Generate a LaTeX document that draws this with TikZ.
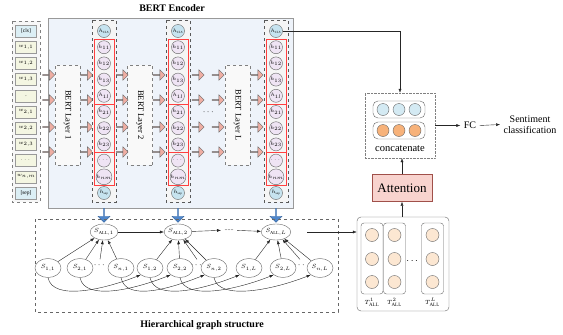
\documentclass[tikz,border=0pt]{standalone}
\usepackage{fontspec}
\setmainfont{Liberation Serif}
\usepackage{amsmath}
\usetikzlibrary{arrows.meta, positioning, shapes.arrows, shapes.geometric}

\definecolor{encfill}{HTML}{EEF3FA}
\definecolor{tokfill}{HTML}{F4F6E2}
\definecolor{clsfill}{HTML}{DCEFF5}
\definecolor{hidfill}{HTML}{EFE4F4}
\definecolor{hidcls}{HTML}{C6E3EF}
\definecolor{pinkarr}{HTML}{EFAEA3}
\definecolor{bluearr}{HTML}{4F87CC}
\definecolor{attfill}{HTML}{F8D3CE}
\definecolor{attdraw}{HTML}{A0504A}
\definecolor{peach}{HTML}{FCE7D2}
\definecolor{orangec}{HTML}{F7B27A}
\definecolor{bluec}{HTML}{D4EAF3}

\tikzset{
  token/.style={draw=gray!80, fill=tokfill, minimum width=21pt, minimum height=12pt,
    inner sep=0pt, font=\fontsize{5.5}{6}\selectfont},
  clstoken/.style={token, fill=clsfill},
  hid/.style={circle, draw=gray!80!black, fill=hidfill, minimum size=13pt, inner sep=0pt,
    font=\fontsize{4.5}{5}\selectfont},
  hidend/.style={hid, fill=hidcls},
  layerbox/.style={draw=gray, dashed, fill=gray!5, rotate=-90, minimum width=100pt,
    minimum height=25pt, font=\fontsize{8.5}{9}\selectfont},
  pinkarrow/.style={single arrow, draw=gray!80!black, fill=pinkarr, minimum height=12pt,
    minimum width=10.5pt, single arrow head extend=2.5pt, inner sep=0pt},
  bluearrow/.style={single arrow, draw=bluearr!80!black, fill=bluearr, shape border rotate=270,
    minimum height=14pt, minimum width=12pt, single arrow head extend=2pt, inner sep=0pt},
  sall/.style={ellipse, draw=gray!80!black, fill=white, minimum width=27pt, minimum height=16pt,
    inner sep=0pt, font=\fontsize{6.5}{7}\selectfont},
  snode/.style={ellipse, draw=gray!80!black, fill=white, minimum width=26pt, minimum height=19pt,
    inner sep=0pt, font=\fontsize{6.5}{7}\selectfont},
  tcirc/.style={circle, draw=gray!80!black, fill=peach, minimum size=13pt, inner sep=0pt},
  arr/.style={-{Latex[length=4pt,width=3pt]}, black!85},
}

\begin{document}
\begin{tikzpicture}[x=1pt,y=-1pt]
\useasboundingbox (0,0) rectangle (563,335);

% encoder background and title
\draw[gray!80, fill=encfill] (48,18) rectangle (293,208);
\node[font=\bfseries] (enctitle) at (172,8) {BERT Encoder};

% input tokens
\draw[dashed, gray, fill=gray!6] (12,21) rectangle (40,202);
\node[clstoken] (tok1) at (26,31) {[cls]};
\foreach \lab [count=\k from 2] in {{$w_{1,1}$},{$w_{1,2}$},{$w_{1,3}$},{.},{$w_{2,1}$},{$w_{2,2}$},{$w_{2,3}$},{$\cdots$},{$w_{n,m}$}}
  \node[token] (tok\k) at (26,{31+16.2*(\k-1)}) {\lab};
\node[clstoken] (tok11) at (26,193) {[sep]};

% bert layers
\node[layerbox] (layer1) at (67.5,115) {BERT Layer 1};
\node[layerbox] (layer2) at (140,115) {BERT Layer 2};
\node[layerbox] (layerL) at (237.5,115) {BERT Layer L};
\node[font=\small] (laydots) at (209,112) {$\cdots$};

% pink arrows between the columns
\foreach \ax [count=\i] in {48.5,86.5,122,159,198,218,257}
  \foreach \ay [count=\j] in {75,100,127,152}
    \node[pinkarrow] (pa\i-\j) at (\ax,\ay) {};

% hidden state columns
\foreach \col/\cx in {1/104,2/178,L/276}{
  \draw[dashed, gray!70!black, fill=gray!8] (\cx-12,20) rectangle (\cx+12,202);
  \node[hidend] (h\col-1) at (\cx,31) {$h_{\mathrm{CLS}}$};
  \foreach \lab [count=\k from 2] in {{$h_{11}$},{$h_{12}$},{$h_{13}$},{$h_{1l}$},{$h_{21}$},{$h_{22}$},{$h_{23}$},{$\cdots$},{$h_{nm}$}}
    \node[hid] (h\col-\k) at (\cx,{31+16.2*(\k-1)}) {\lab};
  \node[hidend] (h\col-11) at (\cx,193) {$h_{\mathrm{sep}}$};
  % red groups
  \draw[red!75, line width=0.6pt] (\cx-10,39.1) rectangle (\cx+10,103.9);
  \draw[red!75, line width=0.6pt] (\cx-10,103.9) rectangle (\cx+10,152.5);
  \draw[red!75, line width=0.6pt] (\cx-10,152.5) rectangle (\cx+10,184.9);
  % arrow down to the graph
  \node[bluearrow] (down\col) at (\cx,215) {};
}

% hierarchical graph
\draw[dashed, gray!80!black, line width=0.7pt] (35,219) rectangle (338,312);
\node[sall] (sall1) at (104,232) {$S_{\mathrm{ALL},1}$};
\node[sall] (sall2) at (178,232) {$S_{\mathrm{ALL},2}$};
\node[sall] (sallL) at (276,232) {$S_{\mathrm{ALL},L}$};
\node[font=\fontsize{6}{6}\selectfont] (sdots) at (229,230) {......};
\draw[arr] (sall1) -- (sall2);
\draw[arr] (sall2) -- (sdots);
\draw[arr] (sdots) -- (sallL);

\foreach \col/\xa/\xb/\xd/\xn in {1/48/80/100/121, 2/150/180/197/214, L/249/283/300/320}{
  \node[snode] (s1\col) at (\xa,268) {$S_{1,\col}$};
  \node[snode] (s2\col) at (\xb,268) {$S_{2,\col}$};
  \node[font=\small] (dots\col) at (\xd,265) {$\cdots$};
  \node[snode] (sn\col) at (\xn,268) {$S_{n,\col}$};
  \draw[arr] (s1\col) -- (sall\col);
  \draw[arr] (s2\col) -- (sall\col);
  \draw[arr] (dots\col.north) -- (sall\col);
  \draw[arr] (sn\col) -- (sall\col);
}

% curved links between the layers
\foreach \i/\last in {1/L,2/L,n/L}{
  \draw[arr] (s\i1.south) .. controls +(5,24) and +(-35,14) .. (s\i2.south west);
  \draw[arr] (s\i2.south) .. controls +(5,24) and +(-35,14) .. (s\i\last.south west);
}
\node[font=\bfseries] (graphtitle) at (202,325) {Hierarchical graph structure};

% graph outputs
\node[draw=gray!80!black, rounded corners=4pt, fill=white, minimum width=92pt, minimum height=94pt] (tbox) at (403,264) {};
\foreach \tx/\lab [count=\i] in {372/1, 394.5/2, 432.5/L}{
  \draw[gray!80!black, rounded corners=3pt] (\tx-11,223) rectangle (\tx+11,294);
  \node[tcirc] (t\i-1) at (\tx,235) {};
  \node[tcirc] (t\i-2) at (\tx,259) {};
  \node[tcirc] (t\i-3) at (\tx,282) {};
  \node[font=\fontsize{6}{6}\selectfont, inner sep=0.5pt] (tlab\i) at (\tx,302.5) {$T^{\lab}_{\mathrm{ALL}}$};
}
\node (tdots) at (413,261) {$\cdots$};
\draw[arr] ([xshift=16pt]sallL.east) -- (tbox.west |- sallL);

% attention and concatenation
\node[draw=attdraw, fill=attfill, minimum width=60pt, minimum height=27pt, font=\fontsize{13}{15}\selectfont] (att) at (402,188) {Attention};
\draw[arr] (tbox.north -| att) -- (att.south);

\node[draw=gray, densely dotted, fill=white, minimum width=70pt, minimum height=65pt] (concat) at (400,125.5) {};
\draw[gray!80!black, rounded corners=5pt, fill=white] (373,101) rectangle (425,118);
\draw[gray!80!black, rounded corners=5pt, fill=white] (373,122) rectangle (425,139);
\foreach \cx [count=\i] in {383,399,415}{
  \node[circle, draw=gray!80!black, fill=bluec, minimum size=12pt, inner sep=0pt] (cb\i) at (\cx,109.5) {};
  \node[circle, draw=gray!80!black, fill=orangec, minimum size=12pt, inner sep=0pt] (co\i) at (\cx,130.5) {};
}
\node[font=\fontsize{10.5}{11}\selectfont] (concatlab) at (400,149) {concatenate};
\draw[arr] (att.north) -- (att.north |- concat.south);

% cls path to concatenation
\draw[arr] (hL-1.east) -| (concat.north);

% classifier
\node (fc) at (470,125.5) {FC};
\node[align=center, font=\fontsize{10}{11}\selectfont] (senti) at (530,124.5) {Sentiment\\classification};
\draw[arr] (concat.east) -- (fc.west);
\draw[arr] (fc.east) -- (senti.west);
\end{tikzpicture}
\end{document}
